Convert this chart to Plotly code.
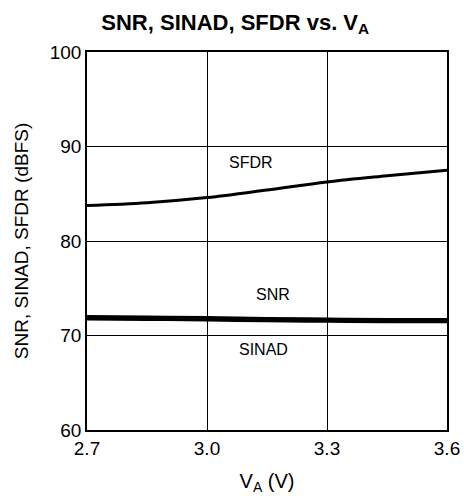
import plotly.graph_objects as go

va = [2.7, 2.85, 3.0, 3.15, 3.3, 3.45, 3.6]
sfdr = [83.75, 84.05, 84.6, 85.4, 86.25, 86.9, 87.5]
snr = [72.0, 71.95, 71.9, 71.8, 71.75, 71.7, 71.7]
sinad = [71.75, 71.7, 71.65, 71.55, 71.5, 71.45, 71.45]

labels = ["SFDR", "SNR", "SINAD"]
label_x = [3.11, 3.165, 3.14]
label_y = [88.3, 74.3, 68.5]

fig = go.Figure()
for y in (sfdr, snr, sinad):
    fig.add_trace(go.Scatter(x=va, y=y, mode="lines", line=dict(color="black", width=3, shape="spline"),
                             showlegend=False, hoverinfo="skip"))

for t, x, y in zip(labels, label_x, label_y):
    fig.add_annotation(x=x, y=y, text=t, showarrow=False, font=dict(size=16, color="black"))

axis_common = dict(showline=True, linecolor="black", linewidth=1.5, mirror=True,
                   showgrid=True, gridcolor="black", gridwidth=1, zeroline=False,
                   ticks="", tickfont=dict(size=19, color="black"))

fig.update_layout(
    width=464, height=500,
    margin=dict(l=87, r=17, t=52, b=70, autoexpand=False),
    plot_bgcolor="white", paper_bgcolor="white",
    font=dict(family="Liberation Sans, Arial, sans-serif", color="black"),
    title=dict(text="<b>SNR, SINAD, SFDR vs. V<sub>A</sub></b>", x=0.507, xanchor="center",
               yref="container", y=0.956, yanchor="middle", font=dict(size=22)),
    xaxis=dict(range=[2.7, 3.6], tickvals=[2.7, 3.0, 3.3, 3.6], ticktext=["2.7", "3.0", "3.3", "3.6"],
               title=dict(text="V<sub>A</sub> (V)", font=dict(size=20), standoff=16), **axis_common),
    yaxis=dict(range=[60, 100], tickvals=[60, 70, 80, 90, 100],
               title=dict(text="SNR, SINAD, SFDR (dBFS)", font=dict(size=19), standoff=16), **axis_common),
)

fig.write_html("out.html", config={"displayModeBar": False},
               post_script="document.body.style.margin='0';document.body.style.overflow='hidden';")
